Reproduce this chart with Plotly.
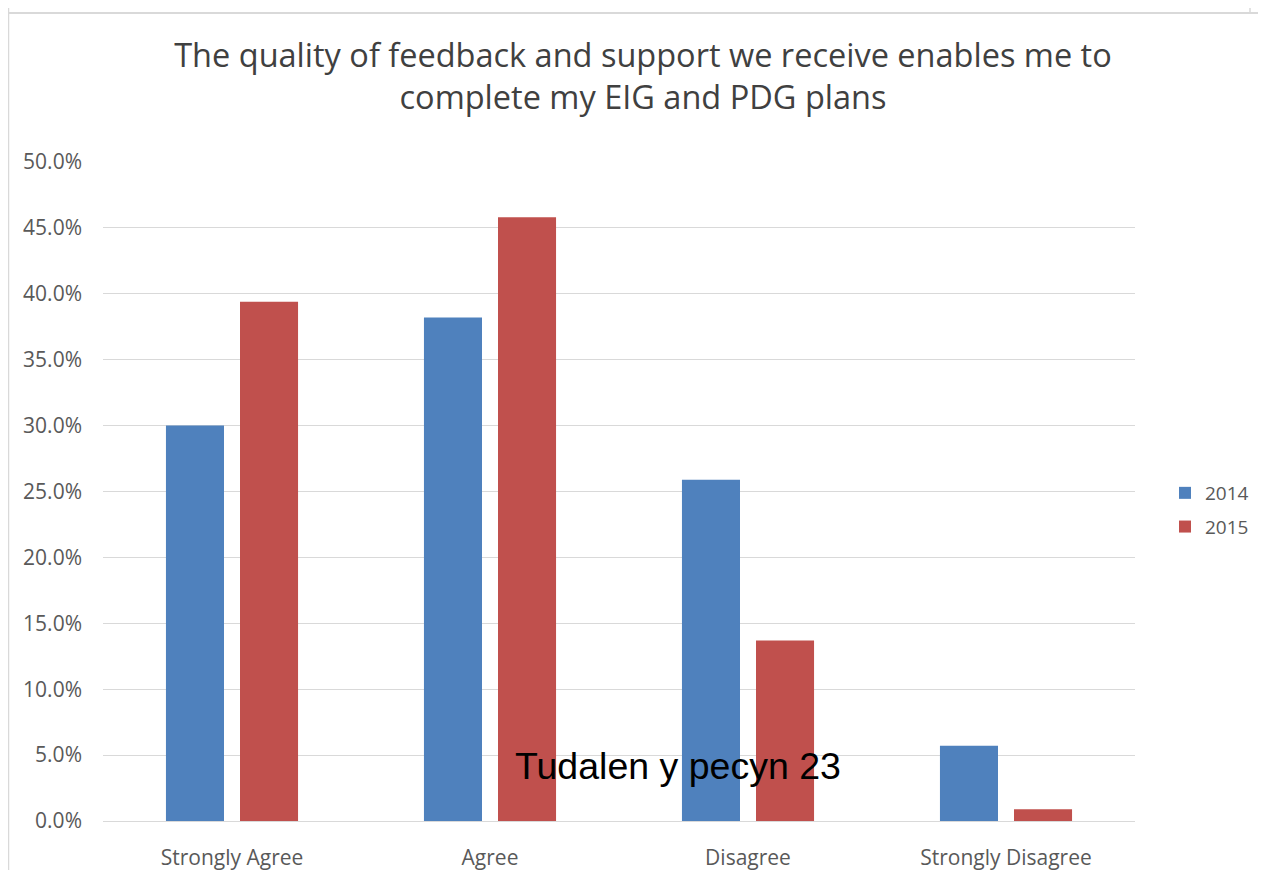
import plotly.graph_objects as go

categories = ["Strongly Agree", "Agree", "Disagree", "Strongly Disagree"]
years = ["2014", "2015"]
values_2014 = [0.300, 0.382, 0.259, 0.057]
values_2015 = [0.394, 0.458, 0.137, 0.009]
tick_vals = [0, 0.05, 0.10, 0.15, 0.20, 0.25, 0.30, 0.35, 0.40, 0.45, 0.50]
title_text = "The quality of feedback and support we receive enables me to<br>complete my EIG and PDG plans"
overlay_text = "Tudalen y pecyn 23"

colors = ["#4F81BD", "#C0504D"]
FONT = "Open Sans"

# page body margin offset (8px) compensation
OFF = 8
W, H = 1266 - OFF, 870 - OFF
L, R, T, B = 103 - OFF, 1266 - 1135, 162 - OFF, 870 - 821
pw = W - L - R
ph = H - T - B

def px(x):
    return (x - OFF - L) / pw

def py(y):
    return (H - B - (y - OFF)) / ph

fig = go.Figure()
for name, vals, c in zip(years, [values_2014, values_2015], colors):
    fig.add_trace(go.Bar(x=categories, y=vals, name=name, marker=dict(color=c, line=dict(width=0)),
                         legendgroup=name))

fig.update_layout(
    width=W, height=H,
    margin=dict(l=L, r=R, t=T, b=B, pad=0, autoexpand=False),
    paper_bgcolor="white", plot_bgcolor="white",
    barmode="group", bargap=0.426, bargroupgap=0.216,
    font=dict(family=FONT, color="#595959", size=21),
    title=dict(text=title_text, x=px(643), xref="paper", xanchor="center",
               y=1 - 59 / H, yref="container", yanchor="top",
               font=dict(family=FONT, size=32.5, color="#404040")),
    xaxis=dict(showline=False, ticks="", tickfont=dict(size=21, color="#595959"), showgrid=False,
               ticklabelstandoff=22, automargin=False),
    yaxis=dict(range=[0, 0.5], tickvals=tick_vals, tickformat=".1%", showgrid=True,
               gridcolor="#D9D9D9", gridwidth=1, zeroline=True, zerolinecolor="#D9D9D9",
               zerolinewidth=1, ticks="", ticklen=0, tickfont=dict(size=21, color="#595959"),
               ticklabelstandoff=20, automargin=False),
    legend=dict(x=px(1165), xanchor="left", y=py(510), yanchor="middle",
                font=dict(size=19, color="#595959"), itemwidth=30, tracegroupgap=6,
                bgcolor="rgba(0,0,0,0)"),
    showlegend=True,
)

# page frame artifacts
line_col = "#D9D9D9"
fig.add_shape(type="line", xref="paper", yref="paper", x0=px(8), x1=px(1266), y0=py(13), y1=py(13),
              line=dict(color=line_col, width=2))
fig.add_shape(type="line", xref="paper", yref="paper", x0=px(8.5), x1=px(8.5), y0=py(0), y1=py(870),
              line=dict(color=line_col, width=1.5))
fig.add_shape(type="line", xref="paper", yref="paper", x0=px(1250), x1=px(1250), y0=py(0), y1=py(13),
              line=dict(color=line_col, width=1.5))

fig.add_annotation(text=overlay_text, xref="paper", yref="paper", x=px(678), y=py(766),
                   xanchor="center", yanchor="middle", showarrow=False,
                   font=dict(family="Liberation Sans", size=37.5, color="#000000"))

fig.write_html("out.html")
